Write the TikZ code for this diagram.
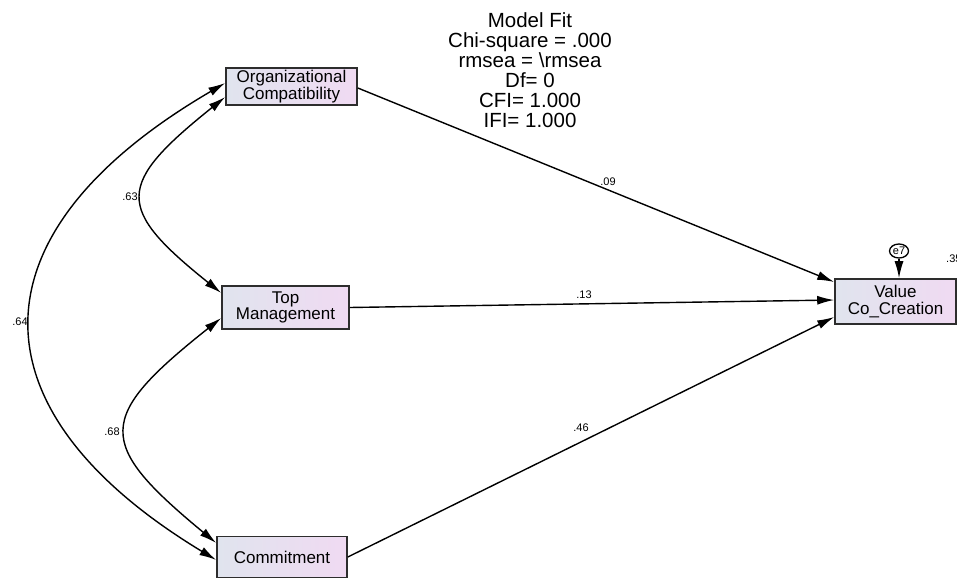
\documentclass[tikz,border=0pt]{standalone}
\usepackage{fontspec}
\setmainfont{Liberation Sans}
\usetikzlibrary{arrows.meta,shapes.geometric}
\definecolor{boxleft}{RGB}{224,228,238}
\definecolor{boxright}{RGB}{240,218,242}
\definecolor{boxline}{RGB}{45,45,45}
\begin{document}
\begin{tikzpicture}[x=1pt, y=-1pt,
  varbox/.style={draw=boxline, line width=1.6pt, rectangle, left color=boxleft, right color=boxright, align=center, inner sep=0pt, font=\fontsize{17}{16.5}\selectfont},
  regpath/.style={line width=1.4pt, -{Latex[length=17pt,width=9pt]}},
  cov/.style={line width=1.4pt, {Latex[length=17pt,width=9pt]}-{Latex[length=17pt,width=9pt]}},
  coef/.style={font=\fontsize{11}{12}\selectfont, inner sep=0pt}]
\clip (0,0) rectangle (957,580);
% Model fit
\node[align=center, inner sep=0pt, font=\fontsize{20.5}{20}\selectfont] (fit) at (530,70.5) {Model Fit\\Chi-square = .000\\rmsea = \textbackslash rmsea\\Df= 0\\CFI= 1.000\\IFI= 1.000};
% Exogenous variables
\node[varbox, minimum width=131pt, minimum height=37pt] (oc) at (291.5,86.5) {Organizational\\Compatibility};
\node[varbox, minimum width=127pt, minimum height=43pt] (tm) at (285.5,307.5) {Top\\Management};
\node[varbox, minimum width=130pt, minimum height=41pt] (com) at (282,557) {Commitment};
% Endogenous variable
\node[varbox, minimum width=121pt, minimum height=45pt] (vcc) at (895.5,301.5) {Value\\Co\_Creation};
\node[ellipse, draw, line width=1.3pt, minimum width=19pt, minimum height=14pt, inner sep=0pt, font=\fontsize{11}{11}\selectfont] (e7) at (899,251) {e7};
\node[coef, anchor=west] (r2) at (946,259) {.35};

% Paths
\draw[regpath] ([yshift=-1.5pt]oc.east) -- ([yshift=19.5pt]vcc.west);
\draw[regpath] (tm.east) -- ([yshift=1.5pt]vcc.west);
\draw[regpath] (com.east) -- ([yshift=-15.5pt]vcc.west);
\draw[regpath] (e7.south) -- (e7.south |- vcc.north);
\node[coef] (b1) at (608,182) {.09};
\node[coef] (b2) at (584,295) {.13};
\node[coef] (b3) at (581,428) {.46};

% Covariances
\draw[cov] ([yshift=3.5pt]oc.west) .. controls +(-257,150) and +(-248,-150) .. ([yshift=-3pt]com.west);
\draw[cov] ([yshift=-10.5pt]oc.west) .. controls +(-110,88) and +(-106,-85) .. ([yshift=14.5pt]tm.west);
\draw[cov] ([yshift=-10.5pt]tm.west) .. controls +(-126,100) and +(-121,-100) .. ([yshift=14pt]com.west);
\node[coef] (c1) at (20,322) {.64};
\node[coef] (c2) at (130,197) {.63};
\node[coef] (c3) at (112,432) {.68};

\end{tikzpicture}
\end{document}
